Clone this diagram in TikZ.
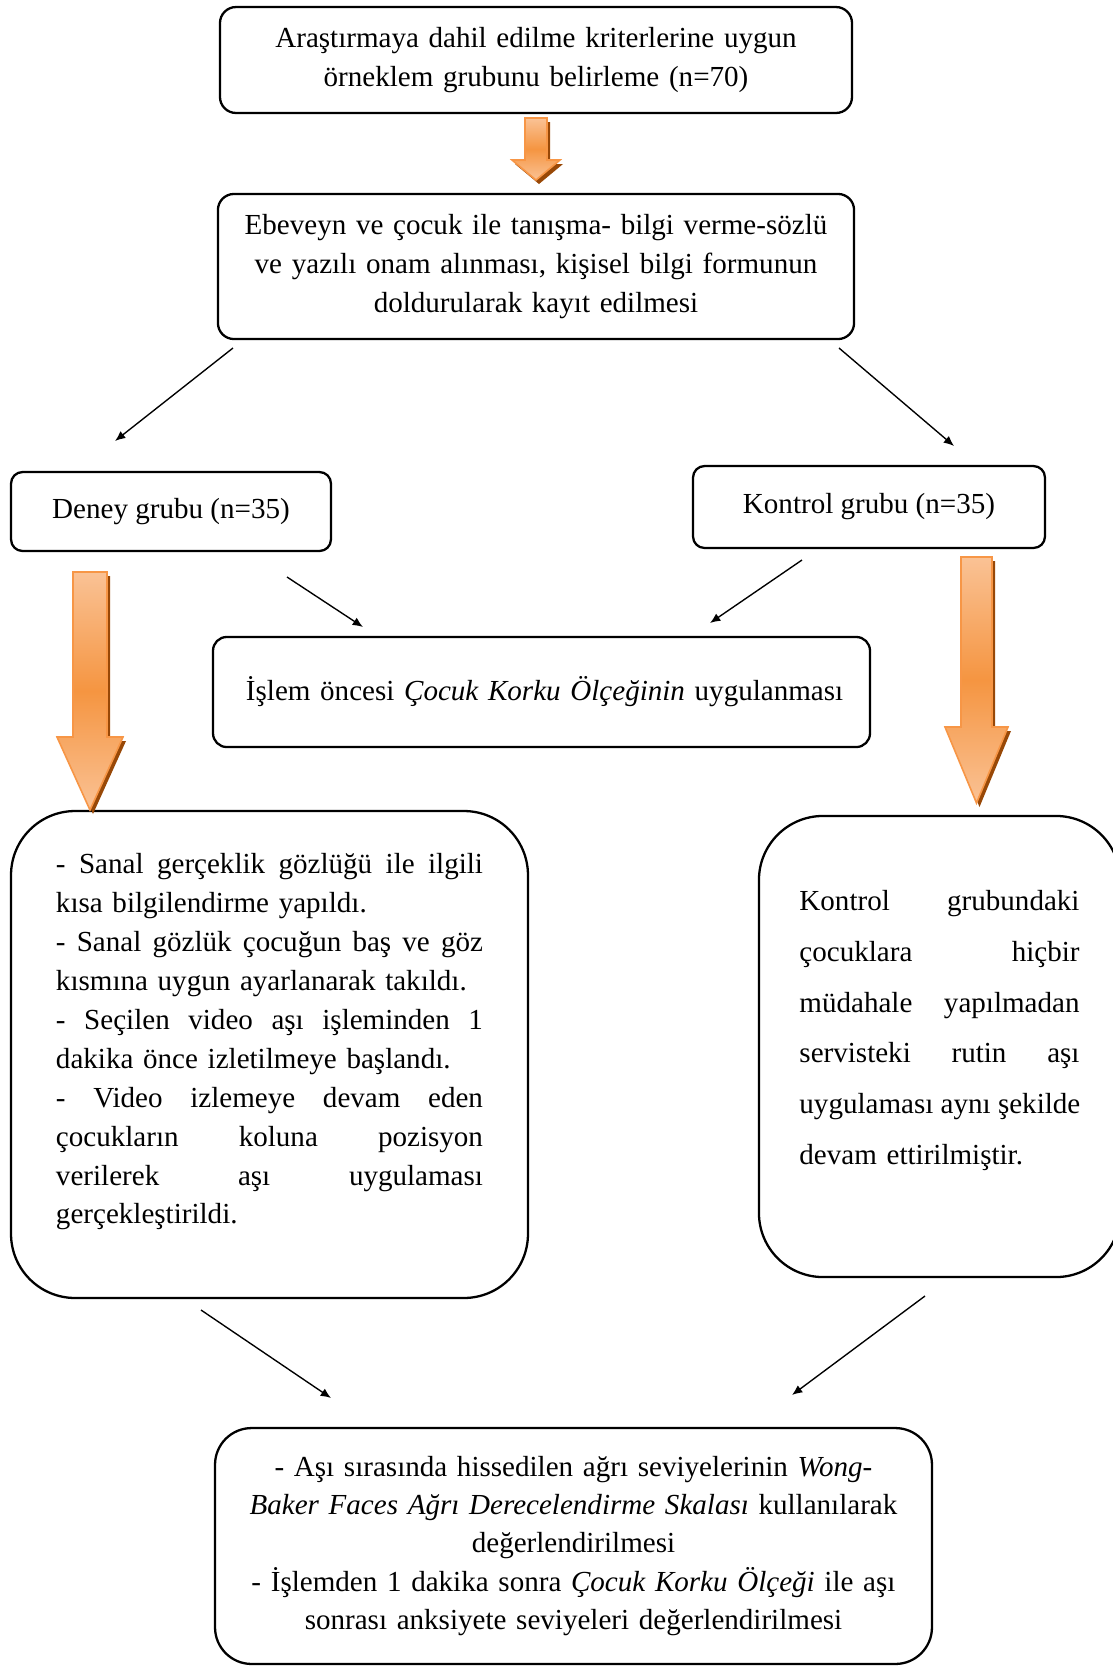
\documentclass[tikz,border=0pt]{standalone}
\usepackage{fontspec}
\setmainfont{Liberation Serif}
\usetikzlibrary{arrows.meta,positioning,calc}
\definecolor{orangelight}{HTML}{FAC295}
\definecolor{orangemid}{HTML}{F59541}
\definecolor{orangeedge}{HTML}{F79646}
\definecolor{orangeshadow}{HTML}{984807}
\newcommand{\jline}[2][186.6pt]{\leavevmode\hbox to #1{\spaceskip=.25em plus 1fil\relax#2}}

\begin{document}
\begin{tikzpicture}[x=0.437pt,y=-0.437pt,font=\fontsize{12.7pt}{17pt}\selectfont,
box/.style={draw,rounded corners=#1,line width=1pt,inner sep=0pt,align=center},
box/.default=6pt,
thinarrow/.style={-{Latex[length=4.5pt,width=3.8pt]},line width=.6pt},
blockarrow/.style={draw=orangeedge,line width=.7pt,top color=orangelight,bottom color=orangelight,middle color=orangemid}]
\useasboundingbox (0,0) rectangle (1113,1666);

\node[box=7pt,minimum width=276.2pt,minimum height=46.3pt,text width=262pt] (criteria) at (536,60)
 {Araştırmaya dahil edilme kriterlerine uygun\\örneklem grubunu belirleme (n=70)};
\node[box=7pt,minimum width=278pt,minimum height=63.4pt,text width=268pt] (consent) at (536,266.5)
 {Ebeveyn ve çocuk ile tanışma- bilgi verme-sözlü\\ve yazılı onam alınması, kişisel bilgi formunun\\doldurularak kayıt edilmesi};
\node[box=5pt,minimum width=139.8pt,minimum height=34.5pt] (deney) at (171,511.5) {Deney grubu (n=35)};
\node[box=5pt,minimum width=153.8pt,minimum height=35.8pt] (kontrol) at (869,507) {Kontrol grubu (n=35)};
\node[box=6pt,minimum width=287.1pt,minimum height=48.1pt,text width=258.3pt,align=left] (pretest) at (541.5,692)
 {\mbox{İşlem öncesi \textit{Çocuk Korku Ölçeğinin} uygulanması}};

\node[box=28pt,minimum width=225.9pt,minimum height=212.8pt,text width=186.6pt,align=left] (vrgroup) at (269.5,1054.5)
 {\jline{- Sanal gerçeklik gözlüğü ile ilgili}\\kısa bilgilendirme yapıldı.\\
  \jline{- Sanal gözlük çocuğun baş ve göz}\\kısmına uygun ayarlanarak takıldı.\\
  \jline{- Seçilen video aşı işleminden 1}\\dakika önce izletilmeye başlandı.\\
  \jline{- Video izlemeye devam eden}\\\jline{çocukların koluna pozisyon}\\
  \jline{verilerek aşı uygulaması}\\gerçekleştirildi.\par\kern11pt};
\node[box=28pt,minimum width=157.8pt,minimum height=201.5pt,text width=122.4pt,align=left,
 font=\fontsize{12.7pt}{22.2pt}\selectfont] (controlgroup) at (939.5,1046.5)
 {\jline[122.4pt]{Kontrol grubundaki}\\\jline[122.4pt]{çocuklara hiçbir}\\\jline[122.4pt]{müdahale yapılmadan}\\
  \jline[122.4pt]{servisteki rutin aşı}\\\jline[122.4pt]{uygulaması aynı şekilde}\\devam ettirilmiştir.\par\kern14pt};

\node[box=16pt,minimum width=313.3pt,minimum height=103.1pt,text width=305pt,
 font=\fontsize{12.7pt}{16.7pt}\selectfont] (assessment) at (573.5,1546)
 {- Aşı sırasında hissedilen ağrı seviyelerinin \textit{Wong-}\\
  \textit{Baker Faces Ağrı Derecelendirme Skalası} kullanılarak\\değerlendirilmesi\\
  - İşlemden 1 dakika sonra \textit{Çocuk Korku Ölçeği} ile aşı\\sonrası anksiyete seviyeleri değerlendirilmesi};

% orange block arrows
\foreach \cx/\sw/\hw/\yt/\yh/\yp in {536/11/24/118/160/180,90/17/33/572/737/810,976.5/15.5/31.5/557/727/803}{
 \fill[orangeshadow,shift={(3,4)}] (\cx-\sw,\yt) -- (\cx+\sw,\yt) -- (\cx+\sw,\yh) -- (\cx+\hw,\yh) -- (\cx,\yp) -- (\cx-\hw,\yh) -- (\cx-\sw,\yh) -- cycle;
 \draw[blockarrow] (\cx-\sw,\yt) -- (\cx+\sw,\yt) -- (\cx+\sw,\yh) -- (\cx+\hw,\yh) -- (\cx,\yp) -- (\cx-\hw,\yh) -- (\cx-\sw,\yh) -- cycle;
}

% thin arrows
\coordinate (consentL) at (233,348);
\coordinate (deneyIn) at (115,441);
\coordinate (consentR) at (839,348);
\coordinate (kontrolIn) at (954,446);
\coordinate (deneyOut) at (287,577);
\coordinate (pretestL) at (363,627);
\coordinate (kontrolOut) at (802,560);
\coordinate (pretestR) at (710,623);
\coordinate (vrOut) at (201,1310);
\coordinate (assessL) at (331,1398);
\coordinate (controlOut) at (925,1296);
\coordinate (assessR) at (792,1395);
\draw[thinarrow] (consentL)--(deneyIn);
\draw[thinarrow] (consentR)--(kontrolIn);
\draw[thinarrow] (deneyOut)--(pretestL);
\draw[thinarrow] (kontrolOut)--(pretestR);
\draw[thinarrow] (vrOut)--(assessL);
\draw[thinarrow] (controlOut)--(assessR);
\end{tikzpicture}
\end{document}
